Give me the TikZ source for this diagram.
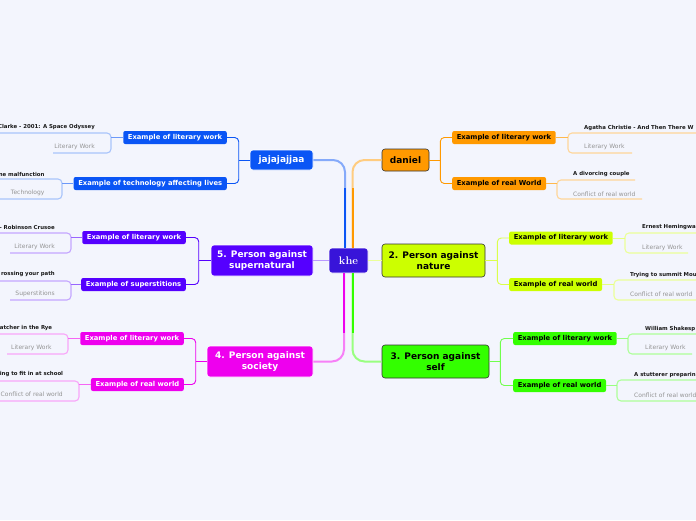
\documentclass[tikz,border=0pt]{standalone}
\usepackage{fontspec}
\newfontfamily\dv{DejaVu Sans}
\usetikzlibrary{calc}
\definecolor{bg}{HTML}{F3F5FD}
\definecolor{ckhe}{HTML}{3814D9}
\definecolor{cblue}{HTML}{0A55F5}
\definecolor{corange}{HTML}{FF9900}
\definecolor{cyg}{HTML}{CCFF00}
\definecolor{cgreen}{HTML}{33FF00}
\definecolor{cmag}{HTML}{EE00EE}
\definecolor{cviol}{HTML}{5500FF}
\begin{document}
\begin{tikzpicture}[x=1pt,y=-1pt,
 mainnode/.style={rounded corners=3pt, align=center, font=\dv\bfseries\fontsize{9}{11}\selectfont, inner sep=0pt, line width=0.6pt},
 subnode/.style={rounded corners=2pt, font=\dv\bfseries\fontsize{6.8}{8}\selectfont, inner xsep=4.6pt, inner ysep=0pt, minimum height=13pt},
 ttl/.style={font=\dv\bfseries\fontsize{5.4}{6}\selectfont, text=black!90, inner sep=0pt},
 note/.style={font=\dv\fontsize{6}{7}\selectfont, text=black!42, inner sep=0pt},
 leafline/.style={line width=1.1pt, rounded corners=4pt},
 brk/.style={line width=0.9pt, rounded corners=4pt},
 mainconn/.style={line width=2pt, rounded corners=12pt},
]
\useasboundingbox (0,0) rectangle (696,520);
\clip (0,0) rectangle (696,520);
\fill[bg] (0,0) rectangle (696,520);

% ---------- main nodes ----------
\node[mainnode, fill=ckhe, draw=white, text=white, minimum width=39pt, minimum height=25pt, font=\bfseries\fontsize{11}{13}\selectfont] (khe) at (348.5,260.5) {khe};
\node[mainnode, fill=cblue, draw=white, text=white, minimum width=63pt, minimum height=20pt] (jaj) at (281.5,160) {jajajajjaa};
\node[mainnode, fill=corange, draw=black!80, text=black, minimum width=47pt, minimum height=22pt] (dan) at (405.5,160) {daniel};
\node[mainnode, fill=cyg, draw=black!80, text=black, minimum width=103pt, minimum height=33pt] (nat) at (433.5,260.5) {2. Person against\\nature};
\node[mainnode, fill=cgreen, draw=black!80, text=black, minimum width=107pt, minimum height=33pt] (slf) at (435.5,361.5) {3. Person against\\self};
\node[mainnode, fill=cmag, draw=white, text=white, minimum width=106pt, minimum height=31pt] (soc) at (260,361.5) {4. Person against\\society};
\node[mainnode, fill=cviol, draw=white, text=white, minimum width=102pt, minimum height=31pt] (sup) at (262,260.5) {5. Person against\\supernatural};

% ---------- main connectors ----------
\draw[mainconn, cblue!50!white] ([xshift=-3.5pt]khe.north) |- (jaj.east);
\draw[line width=2pt, cblue] ([xshift=-3.5pt]khe.north) -- ++(0,-60);
\draw[mainconn, corange!50!white] ([xshift=4pt]khe.north) |- (dan.west);
\draw[line width=2pt, corange] ([xshift=4pt]khe.north) -- ++(0,-60);
\draw[mainconn, cmag!50!white] ([xshift=-4.5pt]khe.south) |- (soc.east);
\draw[line width=2pt, cmag] ([xshift=-4.5pt]khe.south) -- ++(0,60);
\draw[mainconn, cgreen!50!white] ([xshift=4pt]khe.south) |- (slf.west);
\draw[line width=2pt, cgreen] ([xshift=4pt]khe.south) -- ++(0,60);
\draw[line width=1.5pt, cviol!40!white] (khe.west) -- (sup.east);
\draw[line width=1.5pt, cyg!40!white] (khe.east) -- (nat.west);

% ---------- sub nodes ----------
\node[subnode, fill=cblue, text=white, anchor=east] (bs1) at (227,137.5) {Example of literary work};
\node[subnode, fill=cblue, text=white, anchor=east] (bs2) at (227,183.5) {Example of technology affecting lives};
\node[subnode, fill=corange, text=black, anchor=west] (os1) at (452,137.5) {Example of literary work};
\node[subnode, fill=corange, text=black, anchor=west] (os2) at (452,183.5) {Example of real World};
\node[subnode, fill=cyg, text=black, anchor=west] (ys1) at (509,238) {Example of literary work};
\node[subnode, fill=cyg, text=black, anchor=west] (ys2) at (509,284.5) {Example of real world};
\node[subnode, fill=cgreen, text=black, anchor=west] (gs1) at (513,338.5) {Example of literary work};
\node[subnode, fill=cgreen, text=black, anchor=west] (gs2) at (513,385.5) {Example of real world};
\node[subnode, fill=cviol, text=white, anchor=east] (vs1) at (186,237.5) {Example of literary work};
\node[subnode, fill=cviol, text=white, anchor=east] (vs2) at (186,284.5) {Example of superstitions};
\node[subnode, fill=cmag, text=white, anchor=east] (ms1) at (184,338.5) {Example of literary work};
\node[subnode, fill=cmag, text=white, anchor=east] (ms2) at (184,384.5) {Example of real world};

% ---------- brackets ----------
\draw[line width=0.9pt, cblue] (jaj.west) -- ++(-11,0);
\draw[brk, cblue] (bs1.east) -| ($(jaj.west)+(-11,0)$) |- (bs2.east);
\draw[line width=0.9pt, corange] (dan.east) -- ++(11,0);
\draw[brk, corange] (os1.west) -| ($(dan.east)+(11,0)$) |- (os2.west);
\draw[line width=0.9pt, cyg!70!white] (nat.east) -- ++(12,0);
\draw[brk, cyg!70!white] (ys1.west) -| ($(nat.east)+(12,0)$) |- (ys2.west);
\draw[line width=0.9pt, cgreen!70!white] (slf.east) -- ++(11,0);
\draw[brk, cgreen!70!white] (gs1.west) -| ($(slf.east)+(11,0)$) |- (gs2.west);
\draw[line width=0.9pt, cviol] (sup.west) -- ++(-12,0);
\draw[brk, cviol] (vs1.east) -| ($(sup.west)+(-12,0)$) |- (vs2.east);
\draw[line width=0.9pt, cmag] (soc.west) -- ++(-11,0);
\draw[brk, cmag] (ms1.east) -| ($(soc.west)+(-11,0)$) |- (ms2.east);

% ---------- leaves, right side ----------
% orange
\coordinate (ol1) at (568,137.5);
\draw[leafline, corange!40!white] (700,133) -- (568,133) -- (568,153) -- (632,153);
\draw[line width=0.9pt, corange!70!white] (os1.east) -- (ol1);
\node[ttl, anchor=west] (ot1) at (584,128) {Agatha Christie - And Then There W};
\node[note, anchor=west] (on1) at (584,147) {Literary Work};
\coordinate (ol2) at (557,183.5);
\draw[leafline, corange!40!white] (635,180) -- (557,180) -- (557,199) -- (642,199);
\draw[line width=0.9pt, corange!70!white] (os2.east) -- (ol2);
\node[ttl, anchor=west] (ot2) at (573,174) {A divorcing couple};
\node[note, anchor=west] (on2) at (573,194) {Conflict of real world};
% yellow-green
\coordinate (yl1) at (625,238);
\draw[leafline, cyg!40!white] (700,233) -- (625,233) -- (625,253) -- (688,253);
\draw[line width=0.9pt, cyg!50!white] (ys1.east) -- (yl1);
\node[ttl, anchor=west] (yt1) at (642,227.3) {Ernest Hemingwa};
\node[note, anchor=west] (yn1) at (642,248) {Literary Work};
\coordinate (yl2) at (614,284.5);
\draw[leafline, cyg!40!white] (700,280) -- (614,280) -- (614,300) -- (700,300);
\draw[line width=0.9pt, cyg!50!white] (ys2.east) -- (yl2);
\node[ttl, anchor=west] (yt2) at (630,275) {Trying to summit Mou};
\node[note, anchor=west] (yn2) at (630,294) {Conflict of real world};
% green
\coordinate (gl1) at (628,338.5);
\draw[leafline, cgreen!40!white] (700,334) -- (628,334) -- (628,354) -- (692,354);
\draw[line width=0.9pt, cgreen!50!white] (gs1.east) -- (gl1);
\node[ttl, anchor=west] (gt1) at (645,329) {William Shakesp};
\node[note, anchor=west] (gn1) at (645,348) {Literary Work};
\coordinate (gl2) at (617,385.5);
\draw[leafline, cgreen!40!white] (700,380) -- (617,380) -- (617,401) -- (700,401);
\draw[line width=0.9pt, cgreen!50!white] (gs2.east) -- (gl2);
\node[ttl, anchor=west] (gt2) at (634,375) {A stutterer preparin};
\node[note, anchor=west] (gn2) at (634,395) {Conflict of real world};

% ---------- leaves, left side ----------
% blue
\coordinate (bl1) at (111,137.5);
\draw[leafline, cblue!35!white] (-5,133) -- (111,133) -- (111,153) -- (53,153);
\draw[line width=0.9pt, cblue!60!white] (bs1.west) -- (bl1);
\node[ttl, anchor=east] (bt1) at (95,127.3) {Clarke - 2001: A Space Odyssey};
\node[note, anchor=east] (bn1) at (95,147) {Literary Work};
\coordinate (bl2) at (62,183.5);
\draw[leafline, cblue!35!white] (-5,179) -- (62,179) -- (62,199) -- (-5,199);
\draw[line width=0.9pt, cblue!60!white] (bs2.west) -- (bl2);
\node[ttl, anchor=east] (bt2) at (44.7,174) {ne malfunction};
\node[note, anchor=east] (bn2) at (44.7,193) {Technology};
% violet
\coordinate (vl1) at (71,237.5);
\draw[leafline, cviol!35!white] (-5,233) -- (71,233) -- (71,253) -- (10,253);
\draw[line width=0.9pt, cviol!60!white] (vs1.west) -- (vl1);
\node[ttl, anchor=east] (vt1) at (55,227.3) {- Robinson Crusoe};
\node[note, anchor=east] (vn1) at (55,246.7) {Literary Work};
\coordinate (vl2) at (71,284.5);
\draw[leafline, cviol!35!white] (-5,281) -- (71,281) -- (71,300) -- (10,300);
\draw[line width=0.9pt, cviol!60!white] (vs2.west) -- (vl2);
\node[ttl, anchor=east] (vt2) at (55,274) {rossing your path};
\node[note, anchor=east] (vn2) at (55,294) {Superstitions};
% magenta
\coordinate (ml1) at (68,338.5);
\draw[leafline, cmag!35!white] (-5,334) -- (68,334) -- (68,354) -- (7,354);
\draw[line width=0.9pt, cmag!60!white] (ms1.west) -- (ml1);
\node[ttl, anchor=east] (mt1) at (52.3,327.7) {atcher in the Rye};
\node[note, anchor=east] (mn1) at (51.7,347.7) {Literary Work};
\coordinate (ml2) at (79,384.5);
\draw[leafline, cmag!35!white] (-5,381) -- (79,381) -- (79,401) -- (-5,401);
\draw[line width=0.9pt, cmag!60!white] (ms2.west) -- (ml2);
\node[ttl, anchor=east] (mt2) at (63.3,374.3) {ing to fit in at school};
\node[note, anchor=east] (mn2) at (63,394) {Conflict of real world};
\end{tikzpicture}
\end{document}
